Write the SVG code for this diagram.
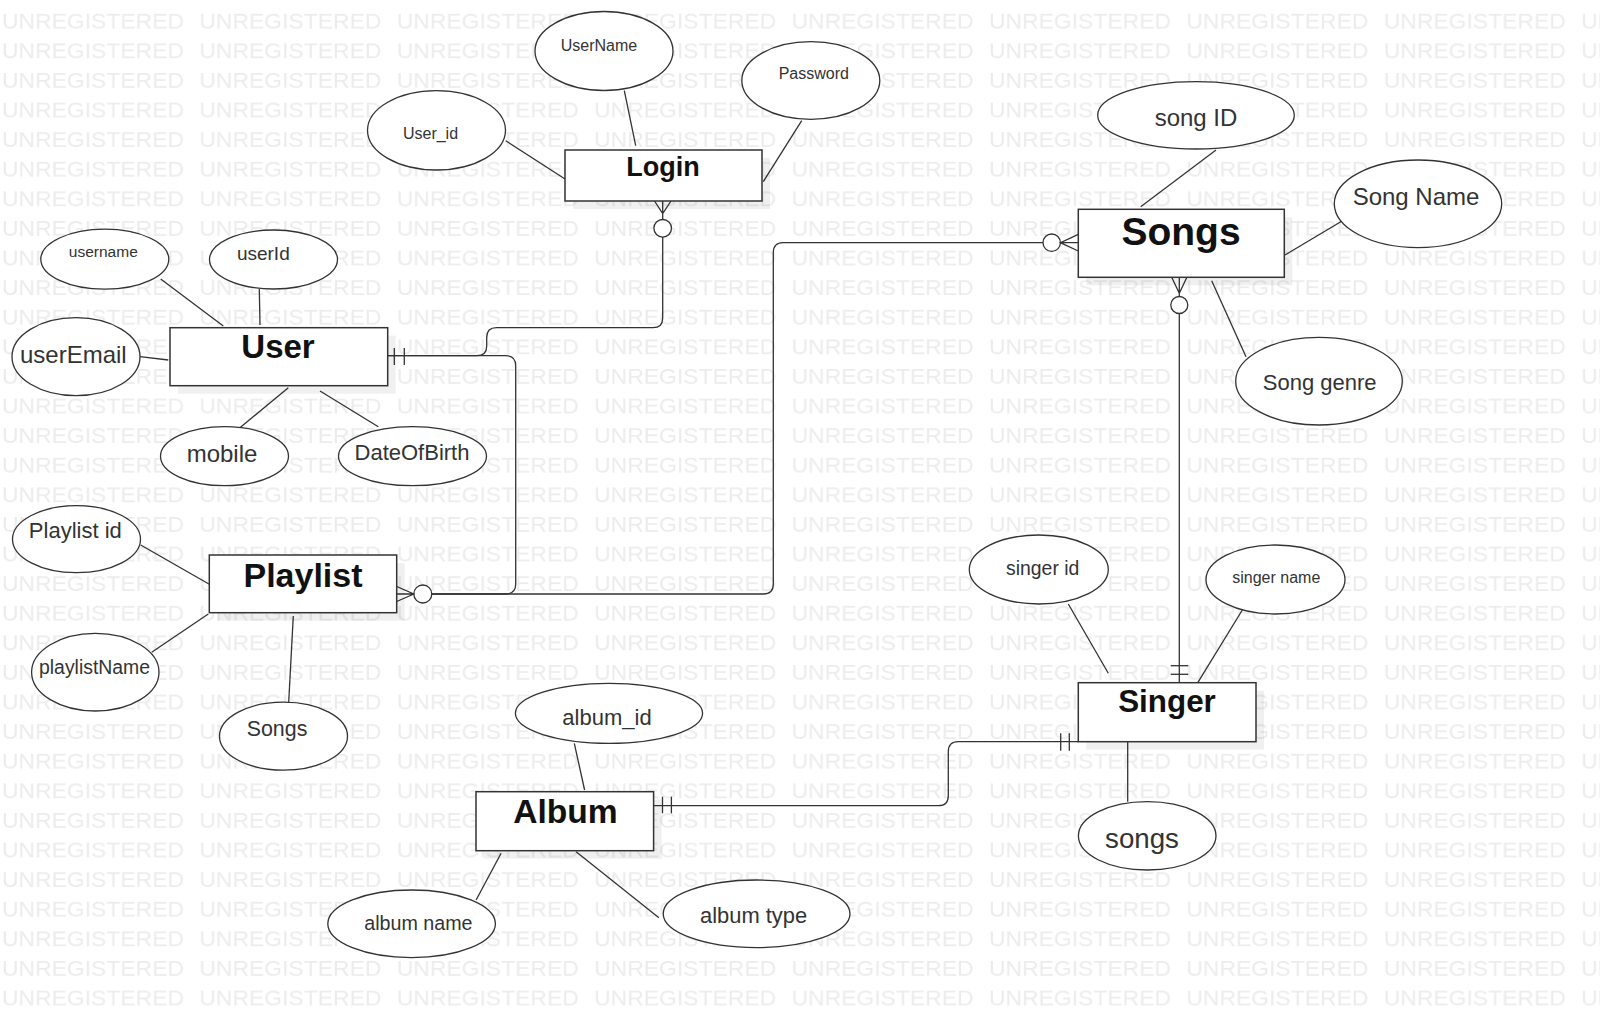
<svg xmlns="http://www.w3.org/2000/svg" width="1600" height="1017" viewBox="0 0 1600 1017">
<style>
text{font-family:"Liberation Sans",Arial,sans-serif;}
.wm{font-size:21px;fill:#ececec;}
.ent rect.box{fill:#fff;stroke:#333;stroke-width:1.5;}
.ent rect.sh{fill:#000;fill-opacity:0.06;}
.ent text{font-weight:bold;fill:#111;text-anchor:middle;}
.attr ellipse{fill:#fff;stroke:#333;stroke-width:1.3;}
.attr text{fill:#333;text-anchor:middle;}
#connectors path,#connectors line{stroke:#333;stroke-width:1.3;fill:none;}
#connectors circle{fill:#fff;stroke:#333;stroke-width:1.3;}
</style>
<defs>
<pattern id="wmp" patternUnits="userSpaceOnUse" x="0" y="0" width="197.4" height="29.6">
<text class="wm" x="2" y="28.3" textLength="182" lengthAdjust="spacingAndGlyphs">UNREGISTERED</text>
</pattern>
</defs>
<rect x="0" y="0" width="1600" height="1017" fill="#fff"/>
<rect x="0" y="0" width="1600" height="1017" fill="url(#wmp)"/>

<g id="connectors">
<!-- attribute links -->
<line x1="624.3" y1="90.7" x2="635.7" y2="145.7"/>
<line x1="505.7" y1="140.7" x2="565" y2="179"/>
<line x1="801.7" y1="120.7" x2="763.3" y2="181.7"/>
<line x1="160.7" y1="279" x2="223.3" y2="326"/>
<line x1="259.3" y1="289" x2="260" y2="325"/>
<line x1="140" y1="356.7" x2="168.3" y2="360"/>
<line x1="288.3" y1="387.7" x2="239.3" y2="428.3"/>
<line x1="320" y1="391" x2="378.3" y2="426.7"/>
<line x1="140.7" y1="545" x2="209.3" y2="584.3"/>
<line x1="151.7" y1="652.3" x2="208.3" y2="614"/>
<line x1="293.3" y1="616" x2="288.7" y2="702.3"/>
<line x1="1216" y1="150" x2="1140.7" y2="206.7"/>
<line x1="1345" y1="219.3" x2="1285" y2="255"/>
<line x1="1211.7" y1="280.7" x2="1246" y2="356.7"/>
<line x1="1068.3" y1="604" x2="1108.3" y2="673.3"/>
<line x1="1246" y1="604" x2="1197.3" y2="683.3"/>
<line x1="1127.7" y1="741.7" x2="1127.7" y2="801.7"/>
<line x1="574.3" y1="743.3" x2="584.6" y2="790"/>
<line x1="501.1" y1="853.3" x2="476.1" y2="900"/>
<line x1="576.1" y1="851.7" x2="658.9" y2="917.7"/>

<!-- User - Login -->
<path d="M387.7,355.7 H477 Q486.7,355.7 486.7,346 V337.5 Q486.7,327.7 496.5,327.7 H653 Q662.7,327.7 662.7,318 V237.1"/>
<line x1="394.3" y1="348" x2="394.3" y2="365"/>
<line x1="404.3" y1="348" x2="404.3" y2="365"/>
<circle cx="662.7" cy="228.3" r="8.8"/>
<path d="M654.5,201 L662.7,213.5 L671,201 M662.7,201 V219.5"/>

<!-- User - Playlist -->
<path d="M387.7,355.7 H505.7 Q515.7,355.7 515.7,365.7 V584 Q515.7,594 505.7,594 H431.7"/>
<circle cx="422.8" cy="594" r="9"/>
<path d="M396.7,586.5 L413.8,594 L396.7,601.5 M396.7,594 H413.8"/>

<!-- Playlist - Songs -->
<path d="M431.7,594 H763.3 Q773.3,594 773.3,584 V252.7 Q773.3,242.7 783.3,242.7 H1043"/>
<circle cx="1051.7" cy="242.7" r="8.7"/>
<path d="M1078.3,234.3 L1060.4,242.7 L1078.3,251 M1060.4,242.7 H1078.3"/>

<!-- Songs - Singer -->
<path d="M1171.7,277.3 L1179.3,293.3 L1186.9,277.3 M1179.3,277.3 V296.5"/>
<circle cx="1179.3" cy="305" r="8.5"/>
<path d="M1179.3,313.5 V682.7"/>
<line x1="1170.7" y1="665.7" x2="1188.3" y2="665.7"/>
<line x1="1170.7" y1="674.3" x2="1188.3" y2="674.3"/>

<!-- Album - Singer -->
<path d="M653.6,805.7 H938.3 Q948.3,805.7 948.3,795.7 V751.7 Q948.3,741.7 958.3,741.7 H1078.3"/>
<line x1="662.5" y1="796.7" x2="662.5" y2="813.3"/>
<line x1="671.4" y1="796.7" x2="671.4" y2="813.3"/>
<line x1="1060.7" y1="733.3" x2="1060.7" y2="750.7"/>
<line x1="1069.3" y1="733.3" x2="1069.3" y2="750.7"/>
</g>

<!-- Entities -->
<g id="login" class="ent">
<rect class="sh" x="573" y="158" width="197" height="51"/>
<rect class="box" x="565" y="150" width="197" height="51"/>
<text x="663" y="176" font-size="27">Login</text>
</g>
<g id="user" class="ent">
<rect class="sh" x="178" y="335.7" width="217.7" height="58"/>
<rect class="box" x="170" y="327.7" width="217.7" height="58"/>
<text x="278" y="358.3" font-size="33">User</text>
</g>
<g id="playlist" class="ent">
<rect class="sh" x="217.3" y="563" width="187.4" height="57.7"/>
<rect class="box" x="209.3" y="555" width="187.4" height="57.7"/>
<text x="303" y="586.7" font-size="34">Playlist</text>
</g>
<g id="songs" class="ent">
<rect class="sh" x="1086.3" y="217.3" width="206" height="68"/>
<rect class="box" x="1078.3" y="209.3" width="206" height="68"/>
<text x="1181" y="245" font-size="39">Songs</text>
</g>
<g id="singer" class="ent">
<rect class="sh" x="1086.3" y="690.7" width="177.7" height="59"/>
<rect class="box" x="1078.3" y="682.7" width="177.7" height="59"/>
<text x="1167" y="711.7" font-size="31.4">Singer</text>
</g>
<g id="album" class="ent">
<rect class="sh" x="484" y="799.7" width="177.6" height="59"/>
<rect class="box" x="476" y="791.7" width="177.6" height="59"/>
<text x="565.5" y="823.3" font-size="33.6">Album</text>
</g>

<!-- Attributes -->
<g id="attr-username-login" class="attr">
<ellipse cx="604" cy="51" rx="69" ry="39.5"/>
<text x="599" y="50.7" font-size="16">UserName</text>
</g>
<g id="attr-password" class="attr">
<ellipse cx="810.8" cy="80.5" rx="69" ry="38.8"/>
<text x="813.8" y="79.3" font-size="16">Password</text>
</g>
<g id="attr-user_id" class="attr">
<ellipse cx="436.5" cy="130.3" rx="69" ry="39.7"/>
<text x="430.5" y="139.3" font-size="16">User_id</text>
</g>
<g id="attr-username" class="attr">
<ellipse cx="104.8" cy="259.2" rx="64" ry="30"/>
<text x="103.3" y="257.3" font-size="15.5">username</text>
</g>
<g id="attr-userid" class="attr">
<ellipse cx="273.5" cy="259.5" rx="64" ry="29.5"/>
<text x="263.3" y="260" font-size="19">userId</text>
</g>
<g id="attr-useremail" class="attr">
<ellipse cx="76" cy="356.7" rx="64" ry="39"/>
<text x="73.3" y="362.7" font-size="24">userEmail</text>
</g>
<g id="attr-mobile" class="attr">
<ellipse cx="224.5" cy="456.2" rx="64" ry="29.5"/>
<text x="222" y="461.7" font-size="24">mobile</text>
</g>
<g id="attr-dob" class="attr">
<ellipse cx="412.5" cy="456.2" rx="74" ry="29.5"/>
<text x="412" y="460" font-size="22">DateOfBirth</text>
</g>
<g id="attr-playlistid" class="attr">
<ellipse cx="76.5" cy="539.2" rx="64" ry="33.5"/>
<text x="75.3" y="538.3" font-size="22">Playlist id</text>
</g>
<g id="attr-playlistname" class="attr">
<ellipse cx="95.3" cy="672.2" rx="63.7" ry="38.8"/>
<text x="94.5" y="674.3" font-size="19.4">playlistName</text>
</g>
<g id="attr-playlist-songs" class="attr">
<ellipse cx="283.5" cy="736.2" rx="64" ry="34"/>
<text x="277" y="735.7" font-size="21.4">Songs</text>
</g>
<g id="attr-songid" class="attr">
<ellipse cx="1196" cy="115.3" rx="98.3" ry="33.7"/>
<text x="1196" y="125.7" font-size="24">song ID</text>
</g>
<g id="attr-songname" class="attr">
<ellipse cx="1418" cy="203.8" rx="83.7" ry="43.8"/>
<text x="1416" y="205" font-size="24">Song Name</text>
</g>
<g id="attr-songgenre" class="attr">
<ellipse cx="1319" cy="381.2" rx="83.3" ry="43.8"/>
<text x="1319.7" y="390" font-size="22">Song genre</text>
</g>
<g id="attr-singerid" class="attr">
<ellipse cx="1038.8" cy="569.5" rx="69.5" ry="34.5"/>
<text x="1042.7" y="575" font-size="19.4">singer id</text>
</g>
<g id="attr-singername" class="attr">
<ellipse cx="1275.5" cy="579.5" rx="69.5" ry="34.5"/>
<text x="1276.3" y="582.7" font-size="16">singer name</text>
</g>
<g id="attr-singer-songs" class="attr">
<ellipse cx="1147.2" cy="835.8" rx="68.8" ry="34.2"/>
<text x="1142" y="847.7" font-size="27.7">songs</text>
</g>
<g id="attr-albumid" class="attr">
<ellipse cx="609" cy="713.3" rx="93.6" ry="30"/>
<text x="607" y="725" font-size="22">album_id</text>
</g>
<g id="attr-albumname" class="attr">
<ellipse cx="411.6" cy="923.8" rx="83.8" ry="33.8"/>
<text x="418.4" y="930" font-size="19.7">album name</text>
</g>
<g id="attr-albumtype" class="attr">
<ellipse cx="756.6" cy="913.8" rx="93.4" ry="33.8"/>
<text x="753.6" y="922.7" font-size="21.9">album type</text>
</g>
</svg>
